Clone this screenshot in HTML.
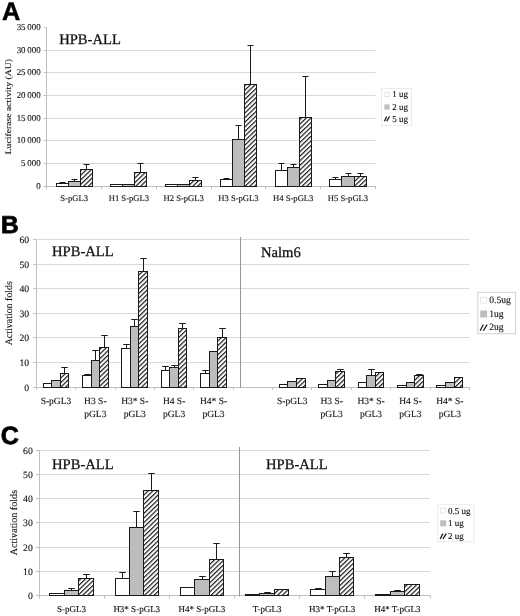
<!DOCTYPE html>
<html><head><meta charset="utf-8"><title>Figure</title>
<style>
html,body{margin:0;padding:0;background:#fff;}
body{width:520px;height:616px;overflow:hidden;font-family:"Liberation Serif", serif;}
svg{display:block;will-change:transform;}
text{fill:#111;stroke:#111;stroke-width:0.12px;text-rendering:geometricPrecision;}
.t{stroke:#111;stroke-width:0.28px;}
.L{fill:#000;stroke:#000;stroke-width:0.8px;}
</style></head><body>
<svg width="520" height="616" viewBox="0 0 520 616">
<defs>
<pattern id="hatch" patternUnits="userSpaceOnUse" width="3.3" height="3.3" patternTransform="rotate(46)">
<rect x="0" y="0" width="3.3" height="3.3" fill="#fff"/>
<rect x="0" y="0" width="1.2" height="3.3" fill="#1a1a1a"/>
</pattern>
</defs>
<rect x="0" y="0" width="520" height="616" fill="#fff"/>
<line x1="46.7" y1="163.5" x2="375.4" y2="163.5" stroke="#d9d9d9" stroke-width="1" />
<line x1="46.7" y1="140.5" x2="375.4" y2="140.5" stroke="#d9d9d9" stroke-width="1" />
<line x1="46.7" y1="118.5" x2="375.4" y2="118.5" stroke="#d9d9d9" stroke-width="1" />
<line x1="46.7" y1="95.5" x2="375.4" y2="95.5" stroke="#d9d9d9" stroke-width="1" />
<line x1="46.7" y1="72.5" x2="375.4" y2="72.5" stroke="#d9d9d9" stroke-width="1" />
<line x1="46.7" y1="50.5" x2="375.4" y2="50.5" stroke="#d9d9d9" stroke-width="1" />
<line x1="43.7" y1="186.5" x2="46.7" y2="186.5" stroke="#bfbfbf" stroke-width="1" />
<text x="40.6" y="188.6" font-size="8.9" text-anchor="end" font-family='"Liberation Serif", serif' font-weight="normal" >0</text>
<line x1="43.7" y1="163.5" x2="46.7" y2="163.5" stroke="#bfbfbf" stroke-width="1" />
<text x="40.6" y="165.6" font-size="8.9" text-anchor="end" font-family='"Liberation Serif", serif' font-weight="normal" >5 000</text>
<line x1="43.7" y1="140.5" x2="46.7" y2="140.5" stroke="#bfbfbf" stroke-width="1" />
<text x="40.6" y="142.6" font-size="8.9" text-anchor="end" font-family='"Liberation Serif", serif' font-weight="normal" >10 000</text>
<line x1="43.7" y1="118.5" x2="46.7" y2="118.5" stroke="#bfbfbf" stroke-width="1" />
<text x="40.6" y="120.6" font-size="8.9" text-anchor="end" font-family='"Liberation Serif", serif' font-weight="normal" >15 000</text>
<line x1="43.7" y1="95.5" x2="46.7" y2="95.5" stroke="#bfbfbf" stroke-width="1" />
<text x="40.6" y="97.6" font-size="8.9" text-anchor="end" font-family='"Liberation Serif", serif' font-weight="normal" >20 000</text>
<line x1="43.7" y1="72.5" x2="46.7" y2="72.5" stroke="#bfbfbf" stroke-width="1" />
<text x="40.6" y="74.6" font-size="8.9" text-anchor="end" font-family='"Liberation Serif", serif' font-weight="normal" >25 000</text>
<line x1="43.7" y1="50.5" x2="46.7" y2="50.5" stroke="#bfbfbf" stroke-width="1" />
<text x="40.6" y="52.6" font-size="8.9" text-anchor="end" font-family='"Liberation Serif", serif' font-weight="normal" >30 000</text>
<line x1="43.7" y1="27.5" x2="46.7" y2="27.5" stroke="#bfbfbf" stroke-width="1" />
<text x="40.6" y="29.6" font-size="8.9" text-anchor="end" font-family='"Liberation Serif", serif' font-weight="normal" >35 000</text>
<line x1="46.5" y1="27.3" x2="46.5" y2="186.2" stroke="#bfbfbf" stroke-width="1" />
<line x1="46.7" y1="186.5" x2="375.4" y2="186.5" stroke="#bfbfbf" stroke-width="1" />
<line x1="46.5" y1="186.2" x2="46.5" y2="189.2" stroke="#bfbfbf" stroke-width="1" />
<line x1="101.5" y1="186.2" x2="101.5" y2="189.2" stroke="#bfbfbf" stroke-width="1" />
<line x1="156.5" y1="186.2" x2="156.5" y2="189.2" stroke="#bfbfbf" stroke-width="1" />
<line x1="211.5" y1="186.2" x2="211.5" y2="189.2" stroke="#bfbfbf" stroke-width="1" />
<line x1="265.5" y1="186.2" x2="265.5" y2="189.2" stroke="#bfbfbf" stroke-width="1" />
<line x1="320.5" y1="186.2" x2="320.5" y2="189.2" stroke="#bfbfbf" stroke-width="1" />
<line x1="375.5" y1="186.2" x2="375.5" y2="189.2" stroke="#bfbfbf" stroke-width="1" />
<rect x="56.5" y="183.5" width="12" height="3" fill="#ffffff" stroke="#1a1a1a" stroke-width="1"/>
<line x1="62.5" y1="183.5" x2="62.5" y2="182.5" stroke="#1a1a1a" stroke-width="1" />
<line x1="59.5" y1="182.5" x2="65.5" y2="182.5" stroke="#1a1a1a" stroke-width="1" />
<rect x="68.5" y="181.5" width="12" height="5" fill="#bdbdbd" stroke="#1a1a1a" stroke-width="1"/>
<line x1="74.5" y1="181.5" x2="74.5" y2="179.5" stroke="#1a1a1a" stroke-width="1" />
<line x1="71.5" y1="179.5" x2="77.5" y2="179.5" stroke="#1a1a1a" stroke-width="1" />
<rect x="80.5" y="169.5" width="12" height="17" fill="url(#hatch)" stroke="#1a1a1a" stroke-width="1"/>
<line x1="86.5" y1="169.5" x2="86.5" y2="164.5" stroke="#1a1a1a" stroke-width="1" />
<line x1="83.5" y1="164.5" x2="89.5" y2="164.5" stroke="#1a1a1a" stroke-width="1" />
<rect x="110.5" y="184.5" width="12" height="2" fill="#ffffff" stroke="#1a1a1a" stroke-width="1"/>
<rect x="122.5" y="184.5" width="12" height="2" fill="#bdbdbd" stroke="#1a1a1a" stroke-width="1"/>
<rect x="134.5" y="172.5" width="12" height="14" fill="url(#hatch)" stroke="#1a1a1a" stroke-width="1"/>
<line x1="140.5" y1="172.5" x2="140.5" y2="163.5" stroke="#1a1a1a" stroke-width="1" />
<line x1="137.5" y1="163.5" x2="143.5" y2="163.5" stroke="#1a1a1a" stroke-width="1" />
<rect x="165.5" y="184.5" width="12" height="2" fill="#ffffff" stroke="#1a1a1a" stroke-width="1"/>
<rect x="177.5" y="184.5" width="12" height="2" fill="#bdbdbd" stroke="#1a1a1a" stroke-width="1"/>
<rect x="189.5" y="180.5" width="12" height="6" fill="url(#hatch)" stroke="#1a1a1a" stroke-width="1"/>
<line x1="195.5" y1="180.5" x2="195.5" y2="177.5" stroke="#1a1a1a" stroke-width="1" />
<line x1="192.5" y1="177.5" x2="198.5" y2="177.5" stroke="#1a1a1a" stroke-width="1" />
<rect x="220.5" y="179.5" width="12" height="7" fill="#ffffff" stroke="#1a1a1a" stroke-width="1"/>
<line x1="226.5" y1="179.5" x2="226.5" y2="178.5" stroke="#1a1a1a" stroke-width="1" />
<line x1="223.5" y1="178.5" x2="229.5" y2="178.5" stroke="#1a1a1a" stroke-width="1" />
<rect x="232.5" y="139.5" width="12" height="47" fill="#bdbdbd" stroke="#1a1a1a" stroke-width="1"/>
<line x1="238.5" y1="139.5" x2="238.5" y2="125.5" stroke="#1a1a1a" stroke-width="1" />
<line x1="235.5" y1="125.5" x2="241.5" y2="125.5" stroke="#1a1a1a" stroke-width="1" />
<rect x="244.5" y="84.5" width="12" height="102" fill="url(#hatch)" stroke="#1a1a1a" stroke-width="1"/>
<line x1="250.5" y1="84.5" x2="250.5" y2="45.5" stroke="#1a1a1a" stroke-width="1" />
<line x1="247.5" y1="45.5" x2="253.5" y2="45.5" stroke="#1a1a1a" stroke-width="1" />
<rect x="275.5" y="170.5" width="12" height="16" fill="#ffffff" stroke="#1a1a1a" stroke-width="1"/>
<line x1="281.5" y1="170.5" x2="281.5" y2="163.5" stroke="#1a1a1a" stroke-width="1" />
<line x1="278.5" y1="163.5" x2="284.5" y2="163.5" stroke="#1a1a1a" stroke-width="1" />
<rect x="287.5" y="167.5" width="12" height="19" fill="#bdbdbd" stroke="#1a1a1a" stroke-width="1"/>
<line x1="293.5" y1="167.5" x2="293.5" y2="164.5" stroke="#1a1a1a" stroke-width="1" />
<line x1="290.5" y1="164.5" x2="296.5" y2="164.5" stroke="#1a1a1a" stroke-width="1" />
<rect x="299.5" y="117.5" width="12" height="69" fill="url(#hatch)" stroke="#1a1a1a" stroke-width="1"/>
<line x1="305.5" y1="117.5" x2="305.5" y2="76.5" stroke="#1a1a1a" stroke-width="1" />
<line x1="302.5" y1="76.5" x2="308.5" y2="76.5" stroke="#1a1a1a" stroke-width="1" />
<rect x="329.5" y="179.5" width="12" height="7" fill="#ffffff" stroke="#1a1a1a" stroke-width="1"/>
<line x1="335.5" y1="179.5" x2="335.5" y2="177.5" stroke="#1a1a1a" stroke-width="1" />
<line x1="332.5" y1="177.5" x2="338.5" y2="177.5" stroke="#1a1a1a" stroke-width="1" />
<rect x="341.5" y="176.5" width="13" height="10" fill="#bdbdbd" stroke="#1a1a1a" stroke-width="1"/>
<line x1="348.5" y1="176.5" x2="348.5" y2="173.5" stroke="#1a1a1a" stroke-width="1" />
<line x1="345.5" y1="173.5" x2="351.5" y2="173.5" stroke="#1a1a1a" stroke-width="1" />
<rect x="354.5" y="176.5" width="12" height="10" fill="url(#hatch)" stroke="#1a1a1a" stroke-width="1"/>
<line x1="360.5" y1="176.5" x2="360.5" y2="173.5" stroke="#1a1a1a" stroke-width="1" />
<line x1="357.5" y1="173.5" x2="363.5" y2="173.5" stroke="#1a1a1a" stroke-width="1" />
<text x="74.09" y="201" font-size="8.6" text-anchor="middle" font-family='"Liberation Serif", serif' font-weight="normal" >S-pGL3</text>
<text x="128.88" y="201" font-size="8.6" text-anchor="middle" font-family='"Liberation Serif", serif' font-weight="normal" >H1 S-pGL3</text>
<text x="183.66" y="201" font-size="8.6" text-anchor="middle" font-family='"Liberation Serif", serif' font-weight="normal" >H2 S-pGL3</text>
<text x="238.44" y="201" font-size="8.6" text-anchor="middle" font-family='"Liberation Serif", serif' font-weight="normal" >H3 S-pGL3</text>
<text x="293.22" y="201" font-size="8.6" text-anchor="middle" font-family='"Liberation Serif", serif' font-weight="normal" >H4 S-pGL3</text>
<text x="348.01" y="201" font-size="8.6" text-anchor="middle" font-family='"Liberation Serif", serif' font-weight="normal" >H5 S-pGL3</text>
<text x="59.2" y="43.6" font-size="14.6" text-anchor="start" font-family='"Liberation Serif", serif' font-weight="normal" class="t">HPB-ALL</text>
<text x="0" y="0" font-size="9.7" text-anchor="middle" font-family='"Liberation Serif", serif' font-weight="normal" transform="translate(10.5 106.7) rotate(-90) scale(1 0.88)">Luciferase activity (AU)</text>
<rect x="381.5" y="88.5" width="30" height="37" fill="#fff" stroke="#ebebeb" stroke-width="1"/>
<rect x="384.9" y="92.3" width="4.2" height="4.2" fill="#fff" stroke="#e6e6e6" stroke-width="1"/>
<text x="392.3" y="97.37" font-size="9" text-anchor="start" font-family='"Liberation Serif", serif' font-weight="normal" >1 ug</text>
<rect x="384.4" y="104.4" width="5.2" height="5.2" fill="#bdbdbd" stroke="none" stroke-width="1"/>
<text x="392.3" y="109.97" font-size="9" text-anchor="start" font-family='"Liberation Serif", serif' font-weight="normal" >2 ug</text>
<line x1="384.4" y1="121.2" x2="386.74" y2="116.52" stroke="#1a1a1a" stroke-width="1.3" />
<line x1="386.74" y1="121.2" x2="389.6" y2="116.52" stroke="#1a1a1a" stroke-width="1.3" />
<text x="392.3" y="121.57" font-size="9" text-anchor="start" font-family='"Liberation Serif", serif' font-weight="normal" >5 ug</text>
<line x1="36.25" y1="362.5" x2="469.5" y2="362.5" stroke="#d9d9d9" stroke-width="1" />
<line x1="36.25" y1="337.5" x2="469.5" y2="337.5" stroke="#d9d9d9" stroke-width="1" />
<line x1="36.25" y1="313.5" x2="469.5" y2="313.5" stroke="#d9d9d9" stroke-width="1" />
<line x1="36.25" y1="288.5" x2="469.5" y2="288.5" stroke="#d9d9d9" stroke-width="1" />
<line x1="36.25" y1="264.5" x2="469.5" y2="264.5" stroke="#d9d9d9" stroke-width="1" />
<line x1="36.25" y1="239.5" x2="469.5" y2="239.5" stroke="#d9d9d9" stroke-width="1" />
<line x1="33.25" y1="387.5" x2="36.25" y2="387.5" stroke="#bfbfbf" stroke-width="1" />
<text x="29.1" y="390.7" font-size="9.7" text-anchor="end" font-family='"Liberation Serif", serif' font-weight="normal" >0</text>
<line x1="33.25" y1="362.5" x2="36.25" y2="362.5" stroke="#bfbfbf" stroke-width="1" />
<text x="29.1" y="365.7" font-size="9.7" text-anchor="end" font-family='"Liberation Serif", serif' font-weight="normal" >10</text>
<line x1="33.25" y1="337.5" x2="36.25" y2="337.5" stroke="#bfbfbf" stroke-width="1" />
<text x="29.1" y="340.7" font-size="9.7" text-anchor="end" font-family='"Liberation Serif", serif' font-weight="normal" >20</text>
<line x1="33.25" y1="313.5" x2="36.25" y2="313.5" stroke="#bfbfbf" stroke-width="1" />
<text x="29.1" y="316.7" font-size="9.7" text-anchor="end" font-family='"Liberation Serif", serif' font-weight="normal" >30</text>
<line x1="33.25" y1="288.5" x2="36.25" y2="288.5" stroke="#bfbfbf" stroke-width="1" />
<text x="29.1" y="291.7" font-size="9.7" text-anchor="end" font-family='"Liberation Serif", serif' font-weight="normal" >40</text>
<line x1="33.25" y1="264.5" x2="36.25" y2="264.5" stroke="#bfbfbf" stroke-width="1" />
<text x="29.1" y="267.7" font-size="9.7" text-anchor="end" font-family='"Liberation Serif", serif' font-weight="normal" >50</text>
<line x1="33.25" y1="239.5" x2="36.25" y2="239.5" stroke="#bfbfbf" stroke-width="1" />
<text x="29.1" y="242.7" font-size="9.7" text-anchor="end" font-family='"Liberation Serif", serif' font-weight="normal" >60</text>
<line x1="36.5" y1="239.5" x2="36.5" y2="387" stroke="#bfbfbf" stroke-width="1" />
<line x1="36.25" y1="387.5" x2="469.5" y2="387.5" stroke="#bfbfbf" stroke-width="1" />
<line x1="36.5" y1="387" x2="36.5" y2="390" stroke="#bfbfbf" stroke-width="1" />
<line x1="75.5" y1="387" x2="75.5" y2="390" stroke="#bfbfbf" stroke-width="1" />
<line x1="115.5" y1="387" x2="115.5" y2="390" stroke="#bfbfbf" stroke-width="1" />
<line x1="154.5" y1="387" x2="154.5" y2="390" stroke="#bfbfbf" stroke-width="1" />
<line x1="193.5" y1="387" x2="193.5" y2="390" stroke="#bfbfbf" stroke-width="1" />
<line x1="233.5" y1="387" x2="233.5" y2="390" stroke="#bfbfbf" stroke-width="1" />
<line x1="272.5" y1="387" x2="272.5" y2="390" stroke="#bfbfbf" stroke-width="1" />
<line x1="311.5" y1="387" x2="311.5" y2="390" stroke="#bfbfbf" stroke-width="1" />
<line x1="351.5" y1="387" x2="351.5" y2="390" stroke="#bfbfbf" stroke-width="1" />
<line x1="390.5" y1="387" x2="390.5" y2="390" stroke="#bfbfbf" stroke-width="1" />
<line x1="430.5" y1="387" x2="430.5" y2="390" stroke="#bfbfbf" stroke-width="1" />
<line x1="469.5" y1="387" x2="469.5" y2="390" stroke="#bfbfbf" stroke-width="1" />
<rect x="43.5" y="383.5" width="8" height="4" fill="#ffffff" stroke="#1a1a1a" stroke-width="1"/>
<rect x="51.5" y="380.5" width="9" height="7" fill="#bdbdbd" stroke="#1a1a1a" stroke-width="1"/>
<rect x="60.5" y="373.5" width="8" height="14" fill="url(#hatch)" stroke="#1a1a1a" stroke-width="1"/>
<line x1="64.5" y1="373.5" x2="64.5" y2="367.5" stroke="#1a1a1a" stroke-width="1" />
<line x1="61.25" y1="367.5" x2="67.75" y2="367.5" stroke="#1a1a1a" stroke-width="1" />
<rect x="82.5" y="375.5" width="9" height="12" fill="#ffffff" stroke="#1a1a1a" stroke-width="1"/>
<line x1="87.5" y1="375.5" x2="87.5" y2="374.5" stroke="#1a1a1a" stroke-width="1" />
<line x1="84.25" y1="374.5" x2="90.75" y2="374.5" stroke="#1a1a1a" stroke-width="1" />
<rect x="91.5" y="360.5" width="8" height="27" fill="#bdbdbd" stroke="#1a1a1a" stroke-width="1"/>
<line x1="95.5" y1="360.5" x2="95.5" y2="350.5" stroke="#1a1a1a" stroke-width="1" />
<line x1="92.25" y1="350.5" x2="98.75" y2="350.5" stroke="#1a1a1a" stroke-width="1" />
<rect x="99.5" y="347.5" width="9" height="40" fill="url(#hatch)" stroke="#1a1a1a" stroke-width="1"/>
<line x1="104.5" y1="347.5" x2="104.5" y2="335.5" stroke="#1a1a1a" stroke-width="1" />
<line x1="101.25" y1="335.5" x2="107.75" y2="335.5" stroke="#1a1a1a" stroke-width="1" />
<rect x="121.5" y="348.5" width="9" height="39" fill="#ffffff" stroke="#1a1a1a" stroke-width="1"/>
<line x1="126.5" y1="348.5" x2="126.5" y2="344.5" stroke="#1a1a1a" stroke-width="1" />
<line x1="123.25" y1="344.5" x2="129.75" y2="344.5" stroke="#1a1a1a" stroke-width="1" />
<rect x="130.5" y="326.5" width="8" height="61" fill="#bdbdbd" stroke="#1a1a1a" stroke-width="1"/>
<line x1="134.5" y1="326.5" x2="134.5" y2="319.5" stroke="#1a1a1a" stroke-width="1" />
<line x1="131.25" y1="319.5" x2="137.75" y2="319.5" stroke="#1a1a1a" stroke-width="1" />
<rect x="138.5" y="271.5" width="9" height="116" fill="url(#hatch)" stroke="#1a1a1a" stroke-width="1"/>
<line x1="143.5" y1="271.5" x2="143.5" y2="258.5" stroke="#1a1a1a" stroke-width="1" />
<line x1="140.25" y1="258.5" x2="146.75" y2="258.5" stroke="#1a1a1a" stroke-width="1" />
<rect x="161.5" y="370.5" width="8" height="17" fill="#ffffff" stroke="#1a1a1a" stroke-width="1"/>
<line x1="165.5" y1="370.5" x2="165.5" y2="366.5" stroke="#1a1a1a" stroke-width="1" />
<line x1="162.25" y1="366.5" x2="168.75" y2="366.5" stroke="#1a1a1a" stroke-width="1" />
<rect x="169.5" y="367.5" width="9" height="20" fill="#bdbdbd" stroke="#1a1a1a" stroke-width="1"/>
<line x1="174.5" y1="367.5" x2="174.5" y2="365.5" stroke="#1a1a1a" stroke-width="1" />
<line x1="171.25" y1="365.5" x2="177.75" y2="365.5" stroke="#1a1a1a" stroke-width="1" />
<rect x="178.5" y="328.5" width="8" height="59" fill="url(#hatch)" stroke="#1a1a1a" stroke-width="1"/>
<line x1="182.5" y1="328.5" x2="182.5" y2="323.5" stroke="#1a1a1a" stroke-width="1" />
<line x1="179.25" y1="323.5" x2="185.75" y2="323.5" stroke="#1a1a1a" stroke-width="1" />
<rect x="200.5" y="373.5" width="9" height="14" fill="#ffffff" stroke="#1a1a1a" stroke-width="1"/>
<line x1="205.5" y1="373.5" x2="205.5" y2="370.5" stroke="#1a1a1a" stroke-width="1" />
<line x1="202.25" y1="370.5" x2="208.75" y2="370.5" stroke="#1a1a1a" stroke-width="1" />
<rect x="209.5" y="351.5" width="8" height="36" fill="#bdbdbd" stroke="#1a1a1a" stroke-width="1"/>
<rect x="217.5" y="337.5" width="9" height="50" fill="url(#hatch)" stroke="#1a1a1a" stroke-width="1"/>
<line x1="222.5" y1="337.5" x2="222.5" y2="328.5" stroke="#1a1a1a" stroke-width="1" />
<line x1="219.25" y1="328.5" x2="225.75" y2="328.5" stroke="#1a1a1a" stroke-width="1" />
<rect x="279.5" y="384.5" width="8" height="3" fill="#ffffff" stroke="#1a1a1a" stroke-width="1"/>
<rect x="287.5" y="381.5" width="9" height="6" fill="#bdbdbd" stroke="#1a1a1a" stroke-width="1"/>
<rect x="296.5" y="378.5" width="9" height="9" fill="url(#hatch)" stroke="#1a1a1a" stroke-width="1"/>
<rect x="318.5" y="384.5" width="9" height="3" fill="#ffffff" stroke="#1a1a1a" stroke-width="1"/>
<rect x="327.5" y="380.5" width="8" height="7" fill="#bdbdbd" stroke="#1a1a1a" stroke-width="1"/>
<rect x="335.5" y="371.5" width="9" height="16" fill="url(#hatch)" stroke="#1a1a1a" stroke-width="1"/>
<line x1="340.5" y1="371.5" x2="340.5" y2="369.5" stroke="#1a1a1a" stroke-width="1" />
<line x1="337.25" y1="369.5" x2="343.75" y2="369.5" stroke="#1a1a1a" stroke-width="1" />
<rect x="358.5" y="382.5" width="8" height="5" fill="#ffffff" stroke="#1a1a1a" stroke-width="1"/>
<rect x="366.5" y="375.5" width="9" height="12" fill="#bdbdbd" stroke="#1a1a1a" stroke-width="1"/>
<line x1="371.5" y1="375.5" x2="371.5" y2="369.5" stroke="#1a1a1a" stroke-width="1" />
<line x1="368.25" y1="369.5" x2="374.75" y2="369.5" stroke="#1a1a1a" stroke-width="1" />
<rect x="375.5" y="372.5" width="8" height="15" fill="url(#hatch)" stroke="#1a1a1a" stroke-width="1"/>
<line x1="379.5" y1="372.5" x2="379.5" y2="372.5" stroke="#1a1a1a" stroke-width="1" />
<line x1="376.25" y1="372.5" x2="382.75" y2="372.5" stroke="#1a1a1a" stroke-width="1" />
<rect x="397.5" y="385.5" width="9" height="2" fill="#ffffff" stroke="#1a1a1a" stroke-width="1"/>
<rect x="406.5" y="382.5" width="8" height="5" fill="#bdbdbd" stroke="#1a1a1a" stroke-width="1"/>
<rect x="414.5" y="375.5" width="9" height="12" fill="url(#hatch)" stroke="#1a1a1a" stroke-width="1"/>
<line x1="419.5" y1="375.5" x2="419.5" y2="374.5" stroke="#1a1a1a" stroke-width="1" />
<line x1="416.25" y1="374.5" x2="422.75" y2="374.5" stroke="#1a1a1a" stroke-width="1" />
<rect x="436.5" y="385.5" width="9" height="2" fill="#ffffff" stroke="#1a1a1a" stroke-width="1"/>
<rect x="445.5" y="382.5" width="9" height="5" fill="#bdbdbd" stroke="#1a1a1a" stroke-width="1"/>
<rect x="454.5" y="377.5" width="8" height="10" fill="url(#hatch)" stroke="#1a1a1a" stroke-width="1"/>
<text x="55.94" y="404" font-size="9.5" text-anchor="middle" font-family='"Liberation Serif", serif' font-weight="normal" >S-pGL3</text>
<text x="95.33" y="404" font-size="9.5" text-anchor="middle" font-family='"Liberation Serif", serif' font-weight="normal" >H3 S-</text>
<text x="95.33" y="417" font-size="9.5" text-anchor="middle" font-family='"Liberation Serif", serif' font-weight="normal" >pGL3</text>
<text x="134.72" y="404" font-size="9.5" text-anchor="middle" font-family='"Liberation Serif", serif' font-weight="normal" >H3* S-</text>
<text x="134.72" y="417" font-size="9.5" text-anchor="middle" font-family='"Liberation Serif", serif' font-weight="normal" >pGL3</text>
<text x="174.1" y="404" font-size="9.5" text-anchor="middle" font-family='"Liberation Serif", serif' font-weight="normal" >H4 S-</text>
<text x="174.1" y="417" font-size="9.5" text-anchor="middle" font-family='"Liberation Serif", serif' font-weight="normal" >pGL3</text>
<text x="213.49" y="404" font-size="9.5" text-anchor="middle" font-family='"Liberation Serif", serif' font-weight="normal" >H4* S-</text>
<text x="213.49" y="417" font-size="9.5" text-anchor="middle" font-family='"Liberation Serif", serif' font-weight="normal" >pGL3</text>
<text x="292.26" y="404" font-size="9.5" text-anchor="middle" font-family='"Liberation Serif", serif' font-weight="normal" >S-pGL3</text>
<text x="331.65" y="404" font-size="9.5" text-anchor="middle" font-family='"Liberation Serif", serif' font-weight="normal" >H3 S-</text>
<text x="331.65" y="417" font-size="9.5" text-anchor="middle" font-family='"Liberation Serif", serif' font-weight="normal" >pGL3</text>
<text x="371.03" y="404" font-size="9.5" text-anchor="middle" font-family='"Liberation Serif", serif' font-weight="normal" >H3* S-</text>
<text x="371.03" y="417" font-size="9.5" text-anchor="middle" font-family='"Liberation Serif", serif' font-weight="normal" >pGL3</text>
<text x="410.42" y="404" font-size="9.5" text-anchor="middle" font-family='"Liberation Serif", serif' font-weight="normal" >H4 S-</text>
<text x="410.42" y="417" font-size="9.5" text-anchor="middle" font-family='"Liberation Serif", serif' font-weight="normal" >pGL3</text>
<text x="449.81" y="404" font-size="9.5" text-anchor="middle" font-family='"Liberation Serif", serif' font-weight="normal" >H4* S-</text>
<text x="449.81" y="417" font-size="9.5" text-anchor="middle" font-family='"Liberation Serif", serif' font-weight="normal" >pGL3</text>
<line x1="240.5" y1="237" x2="240.5" y2="388" stroke="#969696" stroke-width="1" />
<text x="52" y="256.3" font-size="14.6" text-anchor="start" font-family='"Liberation Serif", serif' font-weight="normal" class="t">HPB-ALL</text>
<text x="261" y="256.5" font-size="14.6" text-anchor="start" font-family='"Liberation Serif", serif' font-weight="normal" class="t">Nalm6</text>
<text x="0" y="0" font-size="9.95" text-anchor="middle" font-family='"Liberation Serif", serif' font-weight="normal" transform="translate(11.8 313.2) rotate(-90) scale(1 1)">Activation folds</text>
<rect x="477.8" y="292.3" width="37.7" height="41.4" fill="#fff" stroke="#d2d2d2" stroke-width="1"/>
<rect x="480.7" y="297.25" width="5.9" height="5.9" fill="#fff" stroke="#e6e6e6" stroke-width="1"/>
<text x="489.2" y="303.37" font-size="9.6" text-anchor="start" font-family='"Liberation Serif", serif' font-weight="normal" >0.5ug</text>
<rect x="480.2" y="310.55" width="6.9" height="6.9" fill="#bdbdbd" stroke="none" stroke-width="1"/>
<text x="489.2" y="317.17" font-size="9.6" text-anchor="start" font-family='"Liberation Serif", serif' font-weight="normal" >1ug</text>
<line x1="480.2" y1="330.75" x2="483.31" y2="324.54" stroke="#1a1a1a" stroke-width="1.3" />
<line x1="483.31" y1="330.75" x2="487.1" y2="324.54" stroke="#1a1a1a" stroke-width="1.3" />
<text x="489.2" y="330.47" font-size="9.6" text-anchor="start" font-family='"Liberation Serif", serif' font-weight="normal" >2ug</text>
<line x1="39" y1="571.5" x2="430" y2="571.5" stroke="#d9d9d9" stroke-width="1" />
<line x1="39" y1="547.5" x2="430" y2="547.5" stroke="#d9d9d9" stroke-width="1" />
<line x1="39" y1="522.5" x2="430" y2="522.5" stroke="#d9d9d9" stroke-width="1" />
<line x1="39" y1="498.5" x2="430" y2="498.5" stroke="#d9d9d9" stroke-width="1" />
<line x1="39" y1="474.5" x2="430" y2="474.5" stroke="#d9d9d9" stroke-width="1" />
<line x1="39" y1="450.5" x2="430" y2="450.5" stroke="#d9d9d9" stroke-width="1" />
<line x1="36" y1="595.5" x2="39" y2="595.5" stroke="#bfbfbf" stroke-width="1" />
<text x="32.8" y="598.7" font-size="9.7" text-anchor="end" font-family='"Liberation Serif", serif' font-weight="normal" >0</text>
<line x1="36" y1="571.5" x2="39" y2="571.5" stroke="#bfbfbf" stroke-width="1" />
<text x="32.8" y="574.7" font-size="9.7" text-anchor="end" font-family='"Liberation Serif", serif' font-weight="normal" >10</text>
<line x1="36" y1="547.5" x2="39" y2="547.5" stroke="#bfbfbf" stroke-width="1" />
<text x="32.8" y="550.7" font-size="9.7" text-anchor="end" font-family='"Liberation Serif", serif' font-weight="normal" >20</text>
<line x1="36" y1="522.5" x2="39" y2="522.5" stroke="#bfbfbf" stroke-width="1" />
<text x="32.8" y="525.7" font-size="9.7" text-anchor="end" font-family='"Liberation Serif", serif' font-weight="normal" >30</text>
<line x1="36" y1="498.5" x2="39" y2="498.5" stroke="#bfbfbf" stroke-width="1" />
<text x="32.8" y="501.7" font-size="9.7" text-anchor="end" font-family='"Liberation Serif", serif' font-weight="normal" >40</text>
<line x1="36" y1="474.5" x2="39" y2="474.5" stroke="#bfbfbf" stroke-width="1" />
<text x="32.8" y="477.7" font-size="9.7" text-anchor="end" font-family='"Liberation Serif", serif' font-weight="normal" >50</text>
<line x1="36" y1="450.5" x2="39" y2="450.5" stroke="#bfbfbf" stroke-width="1" />
<text x="32.8" y="453.7" font-size="9.7" text-anchor="end" font-family='"Liberation Serif", serif' font-weight="normal" >60</text>
<line x1="39.5" y1="450" x2="39.5" y2="595.5" stroke="#bfbfbf" stroke-width="1" />
<line x1="39" y1="595.5" x2="430" y2="595.5" stroke="#bfbfbf" stroke-width="1" />
<line x1="39.5" y1="595.5" x2="39.5" y2="598.5" stroke="#bfbfbf" stroke-width="1" />
<line x1="104.5" y1="595.5" x2="104.5" y2="598.5" stroke="#bfbfbf" stroke-width="1" />
<line x1="169.5" y1="595.5" x2="169.5" y2="598.5" stroke="#bfbfbf" stroke-width="1" />
<line x1="234.5" y1="595.5" x2="234.5" y2="598.5" stroke="#bfbfbf" stroke-width="1" />
<line x1="299.5" y1="595.5" x2="299.5" y2="598.5" stroke="#bfbfbf" stroke-width="1" />
<line x1="364.5" y1="595.5" x2="364.5" y2="598.5" stroke="#bfbfbf" stroke-width="1" />
<line x1="430.5" y1="595.5" x2="430.5" y2="598.5" stroke="#bfbfbf" stroke-width="1" />
<rect x="49.5" y="593.5" width="15" height="2" fill="#ffffff" stroke="#1a1a1a" stroke-width="1"/>
<rect x="64.5" y="590.5" width="14" height="5" fill="#bdbdbd" stroke="#1a1a1a" stroke-width="1"/>
<line x1="71.5" y1="590.5" x2="71.5" y2="588.5" stroke="#1a1a1a" stroke-width="1" />
<line x1="68.25" y1="588.5" x2="74.75" y2="588.5" stroke="#1a1a1a" stroke-width="1" />
<rect x="78.5" y="578.5" width="15" height="17" fill="url(#hatch)" stroke="#1a1a1a" stroke-width="1"/>
<line x1="86.5" y1="578.5" x2="86.5" y2="574.5" stroke="#1a1a1a" stroke-width="1" />
<line x1="83.25" y1="574.5" x2="89.75" y2="574.5" stroke="#1a1a1a" stroke-width="1" />
<rect x="115.5" y="578.5" width="14" height="17" fill="#ffffff" stroke="#1a1a1a" stroke-width="1"/>
<line x1="122.5" y1="578.5" x2="122.5" y2="572.5" stroke="#1a1a1a" stroke-width="1" />
<line x1="119.25" y1="572.5" x2="125.75" y2="572.5" stroke="#1a1a1a" stroke-width="1" />
<rect x="129.5" y="527.5" width="14" height="68" fill="#bdbdbd" stroke="#1a1a1a" stroke-width="1"/>
<line x1="136.5" y1="527.5" x2="136.5" y2="511.5" stroke="#1a1a1a" stroke-width="1" />
<line x1="133.25" y1="511.5" x2="139.75" y2="511.5" stroke="#1a1a1a" stroke-width="1" />
<rect x="143.5" y="490.5" width="15" height="105" fill="url(#hatch)" stroke="#1a1a1a" stroke-width="1"/>
<line x1="151.5" y1="490.5" x2="151.5" y2="473.5" stroke="#1a1a1a" stroke-width="1" />
<line x1="148.25" y1="473.5" x2="154.75" y2="473.5" stroke="#1a1a1a" stroke-width="1" />
<rect x="180.5" y="587.5" width="14" height="8" fill="#ffffff" stroke="#1a1a1a" stroke-width="1"/>
<line x1="187.5" y1="587.5" x2="187.5" y2="587.5" stroke="#1a1a1a" stroke-width="1" />
<line x1="184.25" y1="587.5" x2="190.75" y2="587.5" stroke="#1a1a1a" stroke-width="1" />
<rect x="194.5" y="579.5" width="15" height="16" fill="#bdbdbd" stroke="#1a1a1a" stroke-width="1"/>
<line x1="202.5" y1="579.5" x2="202.5" y2="576.5" stroke="#1a1a1a" stroke-width="1" />
<line x1="199.25" y1="576.5" x2="205.75" y2="576.5" stroke="#1a1a1a" stroke-width="1" />
<rect x="209.5" y="559.5" width="14" height="36" fill="url(#hatch)" stroke="#1a1a1a" stroke-width="1"/>
<line x1="216.5" y1="559.5" x2="216.5" y2="543.5" stroke="#1a1a1a" stroke-width="1" />
<line x1="213.25" y1="543.5" x2="219.75" y2="543.5" stroke="#1a1a1a" stroke-width="1" />
<rect x="245.5" y="594.5" width="14" height="1" fill="#ffffff" stroke="#1a1a1a" stroke-width="1"/>
<rect x="259.5" y="593.5" width="15" height="2" fill="#bdbdbd" stroke="#1a1a1a" stroke-width="1"/>
<line x1="267.5" y1="593.5" x2="267.5" y2="592.5" stroke="#1a1a1a" stroke-width="1" />
<line x1="264.25" y1="592.5" x2="270.75" y2="592.5" stroke="#1a1a1a" stroke-width="1" />
<rect x="274.5" y="589.5" width="14" height="6" fill="url(#hatch)" stroke="#1a1a1a" stroke-width="1"/>
<rect x="310.5" y="589.5" width="15" height="6" fill="#ffffff" stroke="#1a1a1a" stroke-width="1"/>
<line x1="318.5" y1="589.5" x2="318.5" y2="588.5" stroke="#1a1a1a" stroke-width="1" />
<line x1="315.25" y1="588.5" x2="321.75" y2="588.5" stroke="#1a1a1a" stroke-width="1" />
<rect x="325.5" y="576.5" width="14" height="19" fill="#bdbdbd" stroke="#1a1a1a" stroke-width="1"/>
<line x1="332.5" y1="576.5" x2="332.5" y2="571.5" stroke="#1a1a1a" stroke-width="1" />
<line x1="329.25" y1="571.5" x2="335.75" y2="571.5" stroke="#1a1a1a" stroke-width="1" />
<rect x="339.5" y="557.5" width="14" height="38" fill="url(#hatch)" stroke="#1a1a1a" stroke-width="1"/>
<line x1="346.5" y1="557.5" x2="346.5" y2="553.5" stroke="#1a1a1a" stroke-width="1" />
<line x1="343.25" y1="553.5" x2="349.75" y2="553.5" stroke="#1a1a1a" stroke-width="1" />
<rect x="375.5" y="594.5" width="15" height="1" fill="#ffffff" stroke="#1a1a1a" stroke-width="1"/>
<rect x="390.5" y="591.5" width="14" height="4" fill="#bdbdbd" stroke="#1a1a1a" stroke-width="1"/>
<line x1="397.5" y1="591.5" x2="397.5" y2="590.5" stroke="#1a1a1a" stroke-width="1" />
<line x1="394.25" y1="590.5" x2="400.75" y2="590.5" stroke="#1a1a1a" stroke-width="1" />
<rect x="404.5" y="584.5" width="15" height="11" fill="url(#hatch)" stroke="#1a1a1a" stroke-width="1"/>
<text x="71.58" y="612" font-size="9" text-anchor="middle" font-family='"Liberation Serif", serif' font-weight="normal" >S-pGL3</text>
<text x="136.75" y="612" font-size="9" text-anchor="middle" font-family='"Liberation Serif", serif' font-weight="normal" >H3* S-pGL3</text>
<text x="201.92" y="612" font-size="9" text-anchor="middle" font-family='"Liberation Serif", serif' font-weight="normal" >H4* S-pGL3</text>
<text x="267.08" y="612" font-size="9" text-anchor="middle" font-family='"Liberation Serif", serif' font-weight="normal" >T-pGL3</text>
<text x="332.25" y="612" font-size="9" text-anchor="middle" font-family='"Liberation Serif", serif' font-weight="normal" >H3* T-pGL3</text>
<text x="397.42" y="612" font-size="9" text-anchor="middle" font-family='"Liberation Serif", serif' font-weight="normal" >H4* T-pGL3</text>
<line x1="239.5" y1="447" x2="239.5" y2="596.5" stroke="#969696" stroke-width="1" />
<text x="52" y="469.3" font-size="14.6" text-anchor="start" font-family='"Liberation Serif", serif' font-weight="normal" class="t">HPB-ALL</text>
<text x="266" y="469.3" font-size="14.6" text-anchor="start" font-family='"Liberation Serif", serif' font-weight="normal" class="t">HPB-ALL</text>
<text x="0" y="0" font-size="10.1" text-anchor="middle" font-family='"Liberation Serif", serif' font-weight="normal" transform="translate(17.3 522.6) rotate(-90) scale(1 1)">Activation folds</text>
<rect x="437.7" y="504.7" width="36.2" height="37.1" fill="#fff" stroke="#ececec" stroke-width="1"/>
<rect x="440.7" y="508.1" width="5" height="5" fill="#fff" stroke="#e6e6e6" stroke-width="1"/>
<text x="448" y="513.57" font-size="9" text-anchor="start" font-family='"Liberation Serif", serif' font-weight="normal" >0.5 ug</text>
<rect x="440.2" y="520.3" width="6" height="6" fill="#bdbdbd" stroke="none" stroke-width="1"/>
<text x="448" y="526.27" font-size="9" text-anchor="start" font-family='"Liberation Serif", serif' font-weight="normal" >1 ug</text>
<line x1="440.2" y1="539" x2="442.9" y2="533.6" stroke="#1a1a1a" stroke-width="1.3" />
<line x1="442.9" y1="539" x2="446.2" y2="533.6" stroke="#1a1a1a" stroke-width="1.3" />
<text x="448" y="538.97" font-size="9" text-anchor="start" font-family='"Liberation Serif", serif' font-weight="normal" >2 ug</text>
<text x="1.9" y="20.1" font-size="25.3" text-anchor="start" font-family='"Liberation Sans", sans-serif' font-weight="bold" class="L" style="stroke-width:0.45px">A</text>
<text x="1" y="233" font-size="24.5" text-anchor="start" font-family='"Liberation Sans", sans-serif' font-weight="bold" class="L">B</text>
<text x="0.7" y="444.1" font-size="25" text-anchor="start" font-family='"Liberation Sans", sans-serif' font-weight="bold" class="L">C</text>
</svg>
</body></html>
